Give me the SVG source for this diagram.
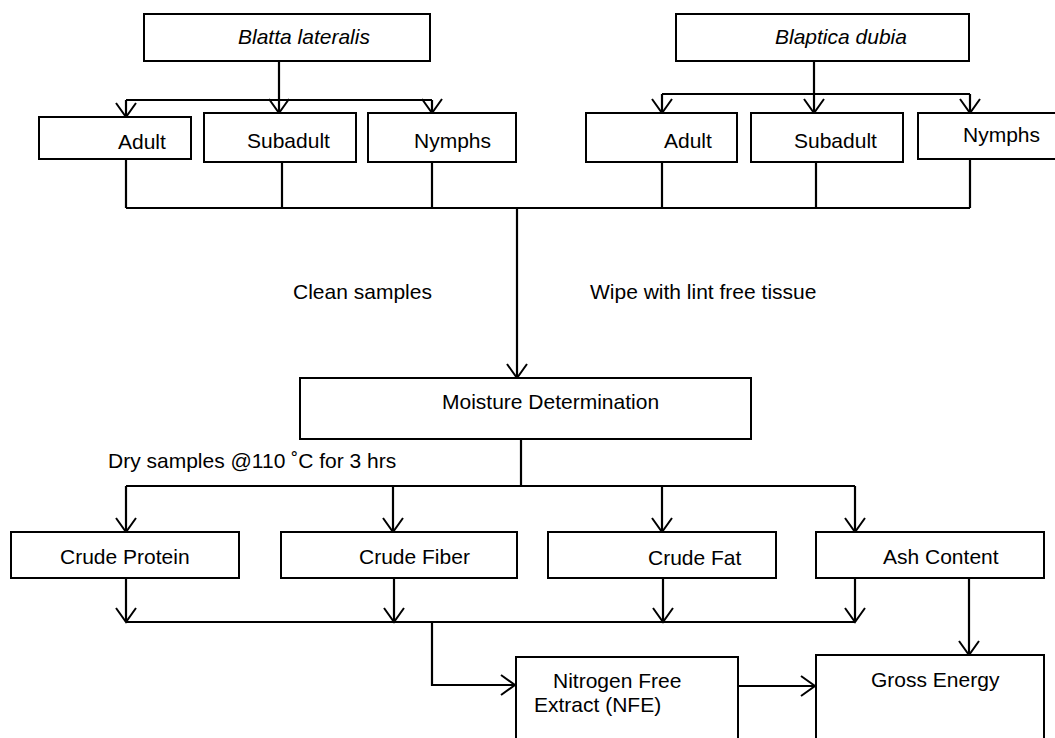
<svg xmlns="http://www.w3.org/2000/svg" width="1055" height="738" viewBox="0 0 1055 738">
<style>
.box{fill:#fff;stroke:#000;stroke-width:2}
.t{font-family:"Liberation Sans",Arial,sans-serif;font-size:21px;fill:#000}
.i{font-style:italic}
.c{fill:none;stroke:#000;stroke-width:2.2}
.a{marker-end:url(#ah)}
</style>
<defs>
<marker id="ah" markerUnits="userSpaceOnUse" markerWidth="30" markerHeight="30" viewBox="-15 -15 30 30" refX="0" refY="0" orient="auto" overflow="visible">
<path d="M-14,-10 L0,0 L-14,10" fill="none" stroke="#000" stroke-width="2"/>
</marker>
</defs>
<rect width="1055" height="738" fill="#fff"/>
<g id="connectors">
<path class="c" d="M279,61 V100 M126,100 H432 M662,94 H970 M814,61 V94"/>
<path class="c a" d="M126,100 V117"/>
<path class="c a" d="M279,100 V113"/>
<path class="c a" d="M432,100 V113"/>
<path class="c a" d="M662,94 V113"/>
<path class="c a" d="M814,94 V113"/>
<path class="c a" d="M970,94 V113"/>
<path class="c" d="M126,159 V208 M282,162 V208 M432,162 V208 M662,162 V208 M816,162 V208 M970,159 V208 M126,208 H970"/>
<path class="c a" d="M517,208 V378"/>
<path class="c" d="M521,439 V486 M126,486 H855"/>
<path class="c a" d="M126,486 V532"/>
<path class="c a" d="M393,486 V532"/>
<path class="c a" d="M662,486 V532"/>
<path class="c a" d="M855,486 V532"/>
<path class="c a" d="M126,578 V622"/>
<path class="c a" d="M394,578 V622"/>
<path class="c a" d="M663,578 V622"/>
<path class="c a" d="M855,578 V622"/>
<path class="c" d="M126,622 H855"/>
<path class="c a" d="M432,622 V685 H515"/>
<path class="c a" d="M738,686 H815"/>
<path class="c a" d="M969,578 V655"/>
</g>
<g id="blatta"><rect class="box" x="144" y="14" width="286" height="47"/><text class="t i" x="238" y="44">Blatta lateralis</text></g>
<g id="blaptica"><rect class="box" x="676" y="14" width="293" height="47"/><text class="t i" x="775" y="44">Blaptica dubia</text></g>
<g id="bl-adult"><rect class="box" x="39" y="117" width="152" height="42"/><text class="t" x="118" y="149">Adult</text></g>
<g id="bl-subadult"><rect class="box" x="204" y="113" width="152" height="49"/><text class="t" x="247" y="148">Subadult</text></g>
<g id="bl-nymphs"><rect class="box" x="368" y="113" width="148" height="49"/><text class="t" x="414" y="148">Nymphs</text></g>
<g id="bd-adult"><rect class="box" x="586" y="113" width="151" height="49"/><text class="t" x="664" y="148">Adult</text></g>
<g id="bd-subadult"><rect class="box" x="751" y="113" width="152" height="49"/><text class="t" x="794" y="148">Subadult</text></g>
<g id="bd-nymphs"><rect class="box" x="918" y="113" width="150" height="46"/><text class="t" x="963" y="142">Nymphs</text></g>
<g id="labels">
<text class="t" x="293" y="299">Clean samples</text>
<text class="t" x="590" y="299">Wipe with lint free tissue</text>
<text class="t" x="108" y="468">Dry samples @110 ˚C for 3 hrs</text>
</g>
<g id="moisture"><rect class="box" x="300" y="378" width="451" height="61"/><text class="t" x="442" y="409">Moisture Determination</text></g>
<g id="protein"><rect class="box" x="11" y="532" width="228" height="46"/><text class="t" x="60" y="564">Crude Protein</text></g>
<g id="fiber"><rect class="box" x="281" y="532" width="236" height="46"/><text class="t" x="359" y="564">Crude Fiber</text></g>
<g id="fat"><rect class="box" x="548" y="532" width="228" height="46"/><text class="t" x="648" y="565">Crude Fat</text></g>
<g id="ash"><rect class="box" x="816" y="532" width="228" height="46"/><text class="t" x="883" y="564">Ash Content</text></g>
<g id="nfe"><rect class="box" x="516" y="657" width="222" height="95"/><text class="t" x="553" y="688">Nitrogen Free</text><text class="t" x="534" y="712">Extract (NFE)</text></g>
<g id="gross"><rect class="box" x="816" y="655" width="228" height="97"/><text class="t" x="871" y="687">Gross Energy</text></g>
</svg>
